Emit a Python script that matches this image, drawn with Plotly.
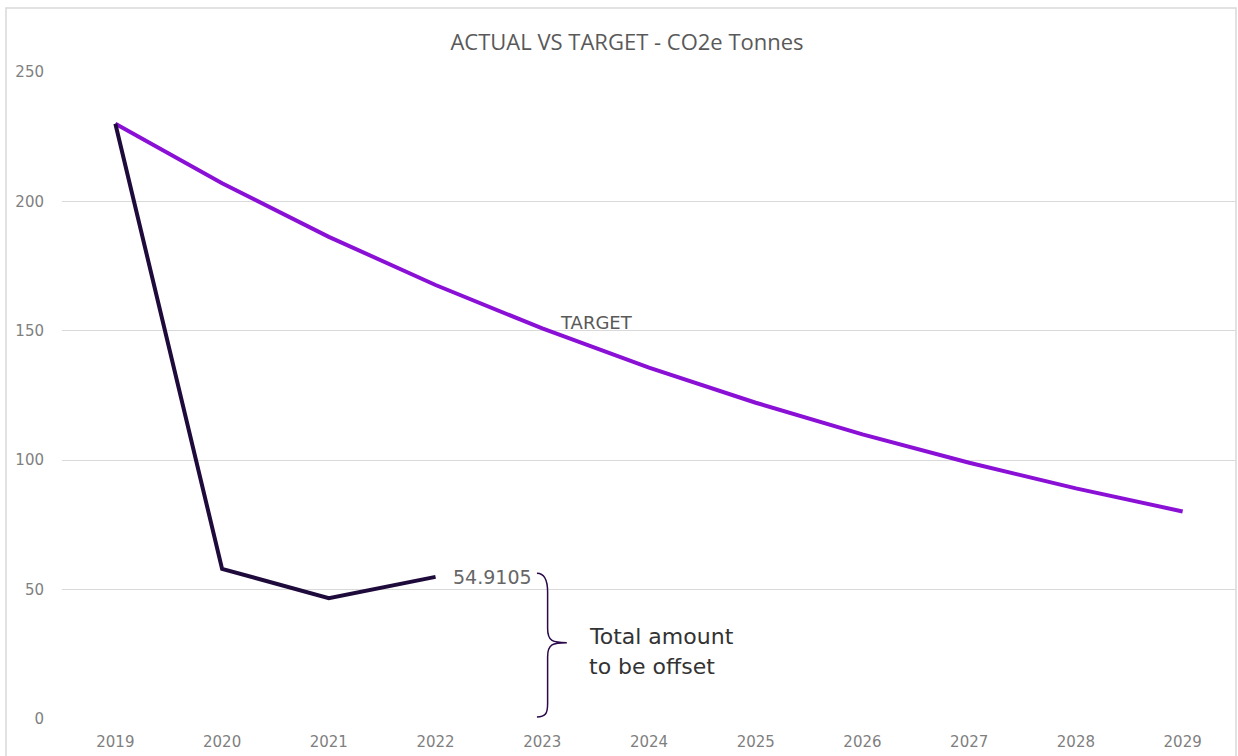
import plotly.graph_objects as go

years = [2019, 2020, 2021, 2022, 2023, 2024, 2025, 2026, 2027, 2028, 2029]
target = [230, 207, 186.3, 167.7, 150.9, 135.8, 122.2, 110.0, 99.0, 89.1, 80.2]
actual_years = [2019, 2020, 2021, 2022]
actual = [230, 58.0, 46.7, 54.9105]
y_ticks = [0, 50, 100, 150, 200, 250]

TICK_FONT = dict(family="DejaVu Sans", size=15, color="#7F7F7F")

fig = go.Figure()
fig.add_trace(go.Scatter(x=years, y=target, mode="lines", name="TARGET",
                         line=dict(color="#8A10D6", width=4), hoverinfo="skip"))
fig.add_trace(go.Scatter(x=actual_years, y=actual, mode="lines", name="ACTUAL",
                         line=dict(color="#1E0B3C", width=4), hoverinfo="skip"))

fig.update_layout(
    width=1238, height=756,
    margin=dict(l=62, r=2, t=72, b=37),
    paper_bgcolor="white", plot_bgcolor="white",
    showlegend=False,
    title=dict(text="ACTUAL VS TARGET - CO2e Tonnes", x=627 / 1238, xanchor="center",
               y=1 - 42 / 756, yanchor="middle",
               font=dict(family="Open Sans", size=22, color="#595959")),
    xaxis=dict(range=[2018.5, 2029.5], tickmode="array", tickvals=years,
               ticktext=[str(y) for y in years], showgrid=False, zeroline=False,
               showline=False, ticks="", ticklabelstandoff=12,
               tickfont=TICK_FONT),
    yaxis=dict(range=[0, 250], tickmode="array", tickvals=y_ticks,
               showgrid=True, gridcolor="#D9D9D9", gridwidth=1, zeroline=False,
               showline=False, ticks="", ticklabelstandoff=17,
               tickfont=TICK_FONT),
)

# outer chart border
fig.add_shape(type="rect", xref="paper", yref="paper",
              x0=-56 / 1174, x1=(1236 - 62) / 1174, y0=-0.2, y1=1 + 64 / 647,
              line=dict(color="#D9D9D9", width=1.5), layer="below")

# brace marking amount to offset
fig.add_shape(type="path", xref="x", yref="y",
              path="M 2022.95 56.3 C 2023.03 56.3, 2023.05 53, 2023.05 49 "
                   "L 2023.05 35 C 2023.05 30, 2023.1 29.5, 2023.23 29.5 "
                   "C 2023.1 29.5, 2023.05 29, 2023.05 24 "
                   "L 2023.05 6 C 2023.05 2, 2023.03 0.8, 2022.95 0.8",
              line=dict(color="#2A0A4A", width=1.5))

fig.add_annotation(x=2022, y=actual[-1], text="54.9105", showarrow=False,
                   xanchor="left", xshift=15, yshift=0,
                   font=dict(family="DejaVu Sans", size=19, color="#666666"))
fig.add_annotation(x=2023.51, y=153.4, text="TARGET", showarrow=False,
                   xanchor="center", yanchor="middle",
                   font=dict(family="DejaVu Sans", size=18, color="#595959"))
fig.add_annotation(x=2023.42, y=31.7, text="Total amount", showarrow=False,
                   xanchor="left", yanchor="middle",
                   font=dict(family="DejaVu Sans", size=22, color="#333333"))
fig.add_annotation(x=2023.42, y=20.1, text="to be offset", showarrow=False,
                   xanchor="left", yanchor="middle",
                   font=dict(family="DejaVu Sans", size=22, color="#333333"))

fig.write_html("out.html")
